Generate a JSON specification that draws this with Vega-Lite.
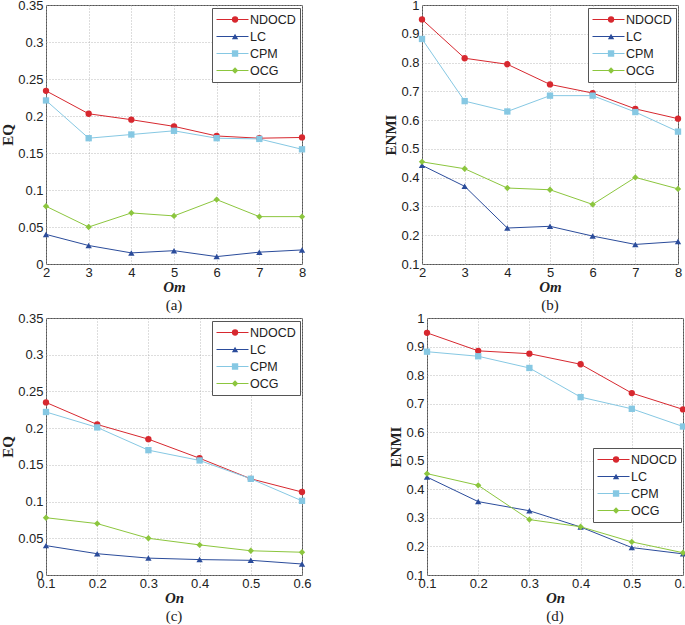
{
  "$schema": "https://vega.github.io/schema/vega-lite/v6.json",
  "padding": {"left": 0, "top": -2, "right": 0, "bottom": 0},
  "background": "white",
  "config": {
    "view": {"stroke": "#555", "strokeWidth": 1},
    "axis": {
      "domain": false, "ticks": false, "labelPadding": 3,
      "labelFont": "Liberation Sans", "labelFontSize": 13, "labelColor": "#222",
      "titleFont": "Liberation Serif", "titleFontSize": 15, "titleFontWeight": "bold", "titleColor": "#222",
      "gridColor": "#aaa", "gridDash": [1, 2], "gridWidth": 0.8,
      "labelFlush": false, "labelOverlap": false
    },
    "axisX": {"titleFontStyle": "italic", "titlePadding": 0, "labelPadding": 2},
    "axisY": {"titlePadding": 2},
    "title": {"font": "Liberation Serif", "fontSize": 15, "fontWeight": "normal", "color": "#222", "offset": 0},
    "legend": {
      "title": null, "orient": "none", "padding": 4, "cornerRadius": 0,
      "labelFont": "Liberation Sans", "labelFontSize": 12.5, "labelColor": "#222",
      "clipHeight": 15, "rowPadding": 2, "symbolStrokeWidth": 1
    }
  },
  "datasets": {
    "a": [
      {"x": 2, "m": "NDOCD", "v": 0.234}, {"x": 3, "m": "NDOCD", "v": 0.203}, {"x": 4, "m": "NDOCD", "v": 0.195}, {"x": 5, "m": "NDOCD", "v": 0.186}, {"x": 6, "m": "NDOCD", "v": 0.173}, {"x": 7, "m": "NDOCD", "v": 0.170}, {"x": 8, "m": "NDOCD", "v": 0.171},
      {"x": 2, "m": "LC", "v": 0.040}, {"x": 3, "m": "LC", "v": 0.025}, {"x": 4, "m": "LC", "v": 0.015}, {"x": 5, "m": "LC", "v": 0.018}, {"x": 6, "m": "LC", "v": 0.010}, {"x": 7, "m": "LC", "v": 0.016}, {"x": 8, "m": "LC", "v": 0.019},
      {"x": 2, "m": "CPM", "v": 0.221}, {"x": 3, "m": "CPM", "v": 0.170}, {"x": 4, "m": "CPM", "v": 0.175}, {"x": 5, "m": "CPM", "v": 0.180}, {"x": 6, "m": "CPM", "v": 0.170}, {"x": 7, "m": "CPM", "v": 0.169}, {"x": 8, "m": "CPM", "v": 0.155},
      {"x": 2, "m": "OCG", "v": 0.078}, {"x": 3, "m": "OCG", "v": 0.050}, {"x": 4, "m": "OCG", "v": 0.069}, {"x": 5, "m": "OCG", "v": 0.065}, {"x": 6, "m": "OCG", "v": 0.087}, {"x": 7, "m": "OCG", "v": 0.064}, {"x": 8, "m": "OCG", "v": 0.064}
    ],
    "b": [
      {"x": 2, "m": "NDOCD", "v": 0.950}, {"x": 3, "m": "NDOCD", "v": 0.815}, {"x": 4, "m": "NDOCD", "v": 0.794}, {"x": 5, "m": "NDOCD", "v": 0.724}, {"x": 6, "m": "NDOCD", "v": 0.694}, {"x": 7, "m": "NDOCD", "v": 0.639}, {"x": 8, "m": "NDOCD", "v": 0.605},
      {"x": 2, "m": "LC", "v": 0.443}, {"x": 3, "m": "LC", "v": 0.370}, {"x": 4, "m": "LC", "v": 0.225}, {"x": 5, "m": "LC", "v": 0.231}, {"x": 6, "m": "LC", "v": 0.197}, {"x": 7, "m": "LC", "v": 0.168}, {"x": 8, "m": "LC", "v": 0.178},
      {"x": 2, "m": "CPM", "v": 0.882}, {"x": 3, "m": "CPM", "v": 0.666}, {"x": 4, "m": "CPM", "v": 0.630}, {"x": 5, "m": "CPM", "v": 0.685}, {"x": 6, "m": "CPM", "v": 0.685}, {"x": 7, "m": "CPM", "v": 0.628}, {"x": 8, "m": "CPM", "v": 0.560},
      {"x": 2, "m": "OCG", "v": 0.455}, {"x": 3, "m": "OCG", "v": 0.431}, {"x": 4, "m": "OCG", "v": 0.364}, {"x": 5, "m": "OCG", "v": 0.358}, {"x": 6, "m": "OCG", "v": 0.307}, {"x": 7, "m": "OCG", "v": 0.401}, {"x": 8, "m": "OCG", "v": 0.361}
    ],
    "c": [
      {"x": 0.1, "m": "NDOCD", "v": 0.235}, {"x": 0.2, "m": "NDOCD", "v": 0.205}, {"x": 0.3, "m": "NDOCD", "v": 0.185}, {"x": 0.4, "m": "NDOCD", "v": 0.159}, {"x": 0.5, "m": "NDOCD", "v": 0.131}, {"x": 0.6, "m": "NDOCD", "v": 0.113},
      {"x": 0.1, "m": "LC", "v": 0.040}, {"x": 0.2, "m": "LC", "v": 0.029}, {"x": 0.3, "m": "LC", "v": 0.023}, {"x": 0.4, "m": "LC", "v": 0.021}, {"x": 0.5, "m": "LC", "v": 0.020}, {"x": 0.6, "m": "LC", "v": 0.015},
      {"x": 0.1, "m": "CPM", "v": 0.222}, {"x": 0.2, "m": "CPM", "v": 0.201}, {"x": 0.3, "m": "CPM", "v": 0.170}, {"x": 0.4, "m": "CPM", "v": 0.156}, {"x": 0.5, "m": "CPM", "v": 0.131}, {"x": 0.6, "m": "CPM", "v": 0.101},
      {"x": 0.1, "m": "OCG", "v": 0.078}, {"x": 0.2, "m": "OCG", "v": 0.070}, {"x": 0.3, "m": "OCG", "v": 0.050}, {"x": 0.4, "m": "OCG", "v": 0.041}, {"x": 0.5, "m": "OCG", "v": 0.033}, {"x": 0.6, "m": "OCG", "v": 0.031}
    ],
    "d": [
      {"x": 0.1, "m": "NDOCD", "v": 0.948}, {"x": 0.2, "m": "NDOCD", "v": 0.885}, {"x": 0.3, "m": "NDOCD", "v": 0.875}, {"x": 0.4, "m": "NDOCD", "v": 0.838}, {"x": 0.5, "m": "NDOCD", "v": 0.737}, {"x": 0.6, "m": "NDOCD", "v": 0.680},
      {"x": 0.1, "m": "LC", "v": 0.443}, {"x": 0.2, "m": "LC", "v": 0.357}, {"x": 0.3, "m": "LC", "v": 0.325}, {"x": 0.4, "m": "LC", "v": 0.268}, {"x": 0.5, "m": "LC", "v": 0.196}, {"x": 0.6, "m": "LC", "v": 0.174},
      {"x": 0.1, "m": "CPM", "v": 0.882}, {"x": 0.2, "m": "CPM", "v": 0.866}, {"x": 0.3, "m": "CPM", "v": 0.825}, {"x": 0.4, "m": "CPM", "v": 0.723}, {"x": 0.5, "m": "CPM", "v": 0.682}, {"x": 0.6, "m": "CPM", "v": 0.620},
      {"x": 0.1, "m": "OCG", "v": 0.455}, {"x": 0.2, "m": "OCG", "v": 0.414}, {"x": 0.3, "m": "OCG", "v": 0.294}, {"x": 0.4, "m": "OCG", "v": 0.269}, {"x": 0.5, "m": "OCG", "v": 0.216}, {"x": 0.6, "m": "OCG", "v": 0.178}
    ]
  },
  "spacing": -3,
  "resolve": {"scale": {"color": "independent", "fill": "independent", "shape": "independent"}, "legend": {"color": "independent", "fill": "independent", "shape": "independent"}},
  "vconcat": [
    {
      "spacing": 76,
      "resolve": {"scale": {"color": "independent", "fill": "independent", "shape": "independent"}, "legend": {"color": "independent", "fill": "independent", "shape": "independent"}},
      "hconcat": [
        {
          "width": 256, "height": 259,
          "data": {"name": "a"},
          "title": {"text": "(a)", "orient": "bottom"},
          "encoding": {
            "x": {"field": "x", "type": "quantitative", "scale": {"domain": [2, 8], "nice": false}, "axis": {"values": [2, 3, 4, 5, 6, 7, 8], "title": "Om"}},
            "y": {"field": "v", "type": "quantitative", "scale": {"domain": [0, 0.35], "nice": false}, "axis": {"values": [0, 0.05, 0.1, 0.15, 0.2, 0.25, 0.3, 0.35], "format": "~g", "title": "EQ"}}
          },
          "layer": [
            {"mark": {"type": "line", "strokeWidth": 1},
             "encoding": {"color": {"field": "m", "type": "nominal", "sort": null, "scale": {"range": ["#d7282f", "#2b4c9b", "#86c8e3", "#8cc63e"]},
               "legend": {"legendX": 166, "legendY": 3, "symbolType": "stroke", "symbolSize": 1024, "symbolOffset": 0, "labelOffset": 1, "strokeColor": "#555", "fillColor": "#fff"}}}},
            {"mark": {"type": "point", "filled": true, "size": 40, "opacity": 1},
             "encoding": {
               "fill": {"field": "m", "type": "nominal", "scale": {"domain": ["NDOCD", "LC", "CPM", "OCG"], "range": ["#d7282f", "#2b4c9b", "#86c8e3", "#8cc63e"]},
                 "legend": {"legendX": 166, "legendY": 3, "symbolSize": 40, "symbolOffset": 12.8, "labelOpacity": 0, "symbolStrokeWidth": 0, "symbolOpacity": 1}},
               "shape": {"field": "m", "type": "nominal", "scale": {"domain": ["NDOCD", "LC", "CPM", "OCG"], "range": ["circle", "triangle-up", "square", "diamond"]},
                 "legend": {"legendX": 166, "legendY": 3, "symbolSize": 40, "symbolOffset": 12.8, "labelOpacity": 0, "symbolStrokeWidth": 0, "symbolOpacity": 1}}}}
          ]
        },
        {
          "width": 256, "height": 259,
          "data": {"name": "b"},
          "title": {"text": "(b)", "orient": "bottom"},
          "encoding": {
            "x": {"field": "x", "type": "quantitative", "scale": {"domain": [2, 8], "nice": false}, "axis": {"values": [2, 3, 4, 5, 6, 7, 8], "title": "Om"}},
            "y": {"field": "v", "type": "quantitative", "scale": {"domain": [0.1, 1], "nice": false, "zero": false}, "axis": {"values": [0.1, 0.2, 0.3, 0.4, 0.5, 0.6, 0.7, 0.8, 0.9, 1], "format": "~g", "title": "ENMI"}}
          },
          "layer": [
            {"mark": {"type": "line", "strokeWidth": 1},
             "encoding": {"color": {"field": "m", "type": "nominal", "sort": null, "scale": {"range": ["#d7282f", "#2b4c9b", "#86c8e3", "#8cc63e"]},
               "legend": {"legendX": 166, "legendY": 3, "symbolType": "stroke", "symbolSize": 1024, "symbolOffset": 0, "labelOffset": 1, "strokeColor": "#555", "fillColor": "#fff"}}}},
            {"mark": {"type": "point", "filled": true, "size": 40, "opacity": 1},
             "encoding": {
               "fill": {"field": "m", "type": "nominal", "scale": {"domain": ["NDOCD", "LC", "CPM", "OCG"], "range": ["#d7282f", "#2b4c9b", "#86c8e3", "#8cc63e"]},
                 "legend": {"legendX": 166, "legendY": 3, "symbolSize": 40, "symbolOffset": 12.8, "labelOpacity": 0, "symbolStrokeWidth": 0, "symbolOpacity": 1}},
               "shape": {"field": "m", "type": "nominal", "scale": {"domain": ["NDOCD", "LC", "CPM", "OCG"], "range": ["circle", "triangle-up", "square", "diamond"]},
                 "legend": {"legendX": 166, "legendY": 3, "symbolSize": 40, "symbolOffset": 12.8, "labelOpacity": 0, "symbolStrokeWidth": 0, "symbolOpacity": 1}}}}
          ]
        }
      ]
    },
    {
      "spacing": 76,
      "resolve": {"scale": {"color": "independent", "fill": "independent", "shape": "independent"}, "legend": {"color": "independent", "fill": "independent", "shape": "independent"}},
      "hconcat": [
        {
          "width": 256, "height": 257,
          "data": {"name": "c"},
          "title": {"text": "(c)", "orient": "bottom"},
          "encoding": {
            "x": {"field": "x", "type": "quantitative", "scale": {"domain": [0.1, 0.6], "nice": false, "zero": false}, "axis": {"values": [0.1, 0.2, 0.3, 0.4, 0.5, 0.6], "format": "~g", "title": "On"}},
            "y": {"field": "v", "type": "quantitative", "scale": {"domain": [0, 0.35], "nice": false}, "axis": {"values": [0, 0.05, 0.1, 0.15, 0.2, 0.25, 0.3, 0.35], "format": "~g", "title": "EQ"}}
          },
          "layer": [
            {"mark": {"type": "line", "strokeWidth": 1},
             "encoding": {"color": {"field": "m", "type": "nominal", "sort": null, "scale": {"range": ["#d7282f", "#2b4c9b", "#86c8e3", "#8cc63e"]},
               "legend": {"legendX": 166, "legendY": 3, "symbolType": "stroke", "symbolSize": 1024, "symbolOffset": 0, "labelOffset": 1, "strokeColor": "#555", "fillColor": "#fff"}}}},
            {"mark": {"type": "point", "filled": true, "size": 40, "opacity": 1},
             "encoding": {
               "fill": {"field": "m", "type": "nominal", "scale": {"domain": ["NDOCD", "LC", "CPM", "OCG"], "range": ["#d7282f", "#2b4c9b", "#86c8e3", "#8cc63e"]},
                 "legend": {"legendX": 166, "legendY": 3, "symbolSize": 40, "symbolOffset": 12.8, "labelOpacity": 0, "symbolStrokeWidth": 0, "symbolOpacity": 1}},
               "shape": {"field": "m", "type": "nominal", "scale": {"domain": ["NDOCD", "LC", "CPM", "OCG"], "range": ["circle", "triangle-up", "square", "diamond"]},
                 "legend": {"legendX": 166, "legendY": 3, "symbolSize": 40, "symbolOffset": 12.8, "labelOpacity": 0, "symbolStrokeWidth": 0, "symbolOpacity": 1}}}}
          ]
        },
        {
          "width": 256, "height": 257,
          "data": {"name": "d"},
          "title": {"text": "(d)", "orient": "bottom"},
          "encoding": {
            "x": {"field": "x", "type": "quantitative", "scale": {"domain": [0.1, 0.6], "nice": false, "zero": false}, "axis": {"values": [0.1, 0.2, 0.3, 0.4, 0.5, 0.6], "format": "~g", "title": "On"}},
            "y": {"field": "v", "type": "quantitative", "scale": {"domain": [0.1, 1], "nice": false, "zero": false}, "axis": {"values": [0.1, 0.2, 0.3, 0.4, 0.5, 0.6, 0.7, 0.8, 0.9, 1], "format": "~g", "title": "ENMI"}}
          },
          "layer": [
            {"mark": {"type": "line", "strokeWidth": 1},
             "encoding": {"color": {"field": "m", "type": "nominal", "sort": null, "scale": {"range": ["#d7282f", "#2b4c9b", "#86c8e3", "#8cc63e"]},
               "legend": {"legendX": 166, "legendY": 130, "symbolType": "stroke", "symbolSize": 1024, "symbolOffset": 0, "labelOffset": 1, "strokeColor": "#555", "fillColor": "#fff"}}}},
            {"mark": {"type": "point", "filled": true, "size": 40, "opacity": 1},
             "encoding": {
               "fill": {"field": "m", "type": "nominal", "scale": {"domain": ["NDOCD", "LC", "CPM", "OCG"], "range": ["#d7282f", "#2b4c9b", "#86c8e3", "#8cc63e"]},
                 "legend": {"legendX": 166, "legendY": 130, "symbolSize": 40, "symbolOffset": 12.8, "labelOpacity": 0, "symbolStrokeWidth": 0, "symbolOpacity": 1}},
               "shape": {"field": "m", "type": "nominal", "scale": {"domain": ["NDOCD", "LC", "CPM", "OCG"], "range": ["circle", "triangle-up", "square", "diamond"]},
                 "legend": {"legendX": 166, "legendY": 130, "symbolSize": 40, "symbolOffset": 12.8, "labelOpacity": 0, "symbolStrokeWidth": 0, "symbolOpacity": 1}}}}
          ]
        }
      ]
    }
  ]
}
